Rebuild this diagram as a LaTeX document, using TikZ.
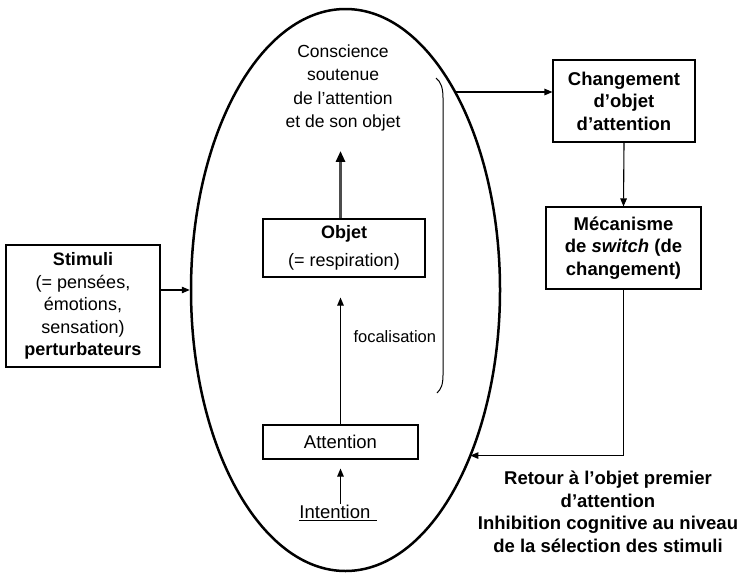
\documentclass[tikz,border=0pt]{standalone}
\usepackage{fontspec}
\setmainfont{Liberation Sans}
\usetikzlibrary{arrows.meta,shapes.geometric,intersections}

\begin{document}
\begin{tikzpicture}[x=1pt,y=-1pt,
  box/.style={draw, line width=1.1pt, inner sep=0pt, align=center},
  arr/.style={line width=1.1pt, -{Triangle[length=8pt,width=6.5pt]}},
  bigarr/.style={line width=2.8pt, draw=black!70, -{Triangle[length=11pt,width=9pt,color=black]}},
  bold/.style={font=\fontsize{18.5}{22.5}\selectfont\bfseries},
  reg/.style={font=\fontsize{17.5}{23.5}\selectfont},
  small/.style={font=\fontsize{16.5}{20}\selectfont}]
\useasboundingbox (0,0) rectangle (746,573);

% central ellipse
\node[ellipse, draw, line width=2.5pt, minimum width=309pt, minimum height=562pt, inner sep=0pt] (ell) at (345.5,290) {};
\path[name path=ellp] (ell.center) ellipse [x radius=154.5pt, y radius=281pt];

% inside the ellipse
\node[reg, align=center] (cons) at (343,88) {Conscience\\soutenue\\de l’attention\\et de son objet};
\node[box, minimum width=162pt, minimum height=58pt, font=\fontsize{18}{22.5}\selectfont] (obj) at (344,248)
  {\textbf{Objet}\\[6pt](= respiration)};
\node[box, minimum width=155pt, minimum height=34pt, font=\fontsize{18.5}{22.5}\selectfont] (att) at (340.5,442) {Attention};
\node[font=\fontsize{18.5}{22.5}\selectfont, inner sep=1pt] (int) at (338,513) {\underline{Intention\,\,}};
\node[small, anchor=west] (foc) at (350,337) {focalisation};

\draw[arr] (att.south |- int.north) -- ([yshift=-9pt]att.south);
\draw[arr] (att.north) -- ([yshift=-20pt]att.north |- obj.south);
\draw[bigarr] (att.north |- obj.north) -- ([yshift=-16pt]att.north |- cons.south);

% bracket beside the inner column
\draw[line width=1pt] (436,78) .. controls (441,82) and (443,88) .. (443,98) -- (443,375) .. controls (443,385) and (441,389) .. (437,393);

% left box
\node[box, minimum width=154pt, minimum height=122pt, font=\fontsize{18}{22.5}\selectfont] (stim) at (83,306)
  {\textbf{Stimuli}\\(= pensées,\\émotions,\\sensation)\\\textbf{perturbateurs}};
\draw[arr] (stim.east |- ell.west) -- (ell.west);

% right column
\node[box, bold, minimum width=142pt, minimum height=82pt] (chg) at (624,101)
  {Changement\\d’objet\\d’attention};
\node[box, bold, minimum width=155pt, minimum height=82pt] (mech) at (623.5,248)
  {Mécanisme\\de \textit{switch} (de\\changement)};
\node[bold, align=center] (ret) at (608,512)
  {Retour à l’objet premier\\d’attention\\Inhibition cognitive au niveau\\de la sélection des stimuli};

\path[name path=h1] (chg.west) ++(0,-9) -- ++(-200,0);
\path[name intersections={of=ellp and h1, by=p1}];
\draw[arr] (p1) -- (p1 -| chg.west);

\draw[arr] (chg.south) -- (mech.north);

\path[name path=h2] (mech.south) ++(0,166) -- ++(-250,0);
\path[name intersections={of=ellp and h2, by=p2}];
\draw[arr] (mech.south) |- (p2);
\end{tikzpicture}
\end{document}
